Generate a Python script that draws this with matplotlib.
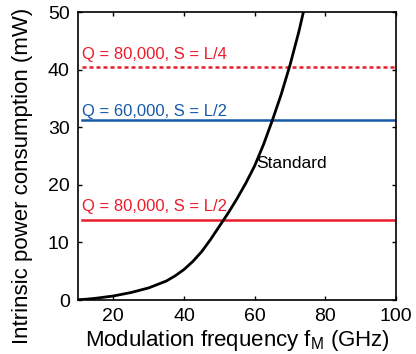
import matplotlib
matplotlib.use("Agg")
import matplotlib.pyplot as plt

plt.rcParams['font.family'] = ['Liberation Sans', 'DejaVu Sans']

# curve (GHz, mW)
freq = [10, 12.5, 15, 17.5, 20, 22.5, 25, 27.5, 30, 32.5, 35, 37.5, 40, 42.5, 45,
        47.5, 50, 52.5, 55, 57.5, 60, 62.5, 65, 67.5, 70, 72.5, 75]
power = [0.05, 0.15, 0.3, 0.5, 0.7, 1.0, 1.3, 1.7, 2.1, 2.7, 3.3, 4.2, 5.3, 6.7, 8.4,
         10.5, 12.8, 15.1, 17.6, 20.3, 23.3, 27.0, 31.2, 35.7, 40.8, 46.6, 53.2]

# horizontal levels
levels = [40.4, 31.2, 13.9]
level_labels = ["Q = 80,000, S = L/4", "Q = 60,000, S = L/2", "Q = 80,000, S = L/2"]
level_colors = ["#ea1d2c", "#1659a8", "#ea1d2c"]
level_styles = ["dotted", "solid", "solid"]
label_offsets = [0.9, 0.2, 1.0]

fig = plt.figure(figsize=(4.16, 3.54), dpi=100)
ax = fig.add_axes([0.1875, 0.1525, 0.7645, 0.8135])

for y, lab, c, ls, off in zip(levels, level_labels, level_colors, level_styles, label_offsets):
    if ls == "dotted":
        ax.plot([11, 100], [y, y], color=c, lw=1.8, dashes=(1.6, 1.2), zorder=2)
    else:
        ax.plot([11, 100], [y, y], color=c, lw=1.8, zorder=2)
    ax.text(11, y + off, lab, color=c, fontsize=12, ha='left', va='bottom')

ax.plot(freq, power, color='black', lw=2, zorder=3)
ax.text(60.3, 22.4, "Standard", fontsize=12.5, ha='left', va='bottom')

ax.set_xlim(10, 100)
ax.set_ylim(0, 50)
ax.set_xticks([20, 40, 60, 80, 100])
ax.set_yticks([0, 10, 20, 30, 40, 50])
ax.tick_params(direction='in', top=True, right=True, labelsize=14, length=3, width=1, pad=6)
for s in ax.spines.values():
    s.set_linewidth(1.2)

ax.set_xlabel("Modulation frequency f$_\\mathregular{M}$ (GHz)", fontsize=16, labelpad=2)
ax.set_ylabel("Intrinsic power consumption (mW)", fontsize=16)
ax.yaxis.set_label_coords(-0.14, 0.43)

fig.savefig("out.png", dpi=100)
